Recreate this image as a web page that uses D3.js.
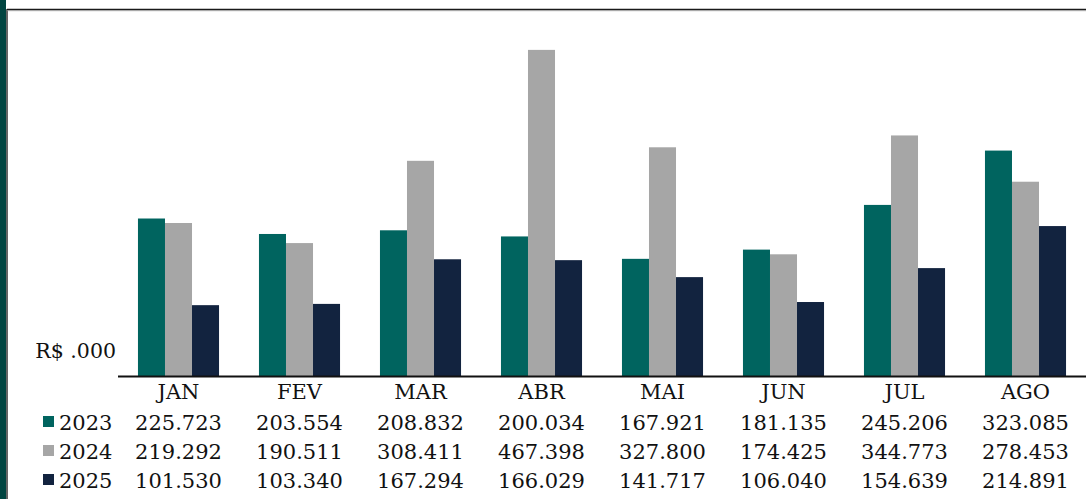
<!DOCTYPE html>
<html>
<head>
<meta charset="utf-8">
<script src="https://cdn.jsdelivr.net/npm/d3@7"></script>
<style>
  body { margin: 0; background: #fff; }
  svg { display: block; font-family: "DejaVu Serif", serif; }
</style>
</head>
<body>
<svg id="chart" width="1086" height="499"></svg>
<script>
const months = ['JAN', 'FEV', 'MAR', 'ABR', 'MAI', 'JUN', 'JUL', 'AGO'];
const years = ['2023', '2024', '2025'];
const v2023 = [225.723, 203.554, 208.832, 200.034, 167.921, 181.135, 245.206, 323.085];
const v2024 = [219.292, 190.511, 308.411, 467.398, 327.800, 174.425, 344.773, 278.453];
const v2025 = [101.530, 103.340, 167.294, 166.029, 141.717, 106.040, 154.639, 214.891];
const colors = ['#00645f', '#a6a6a6', '#12233f'];

const series = [v2023, v2024, v2025];

const svg = d3.select('#chart');

// frame: dark band on the left, line on top
svg.append('rect').attr('x', 0).attr('y', 0).attr('width', 6).attr('height', 499).attr('fill', '#014541');
svg.append('line').attr('x1', 7).attr('x2', 7).attr('y1', 9).attr('y2', 499).attr('stroke', '#333').attr('stroke-width', 1.5);
svg.append('line').attr('x1', 7).attr('x2', 1086).attr('y1', 9.5).attr('y2', 9.5).attr('stroke', '#1a1a1a').attr('stroke-width', 1.5);
svg.append('line').attr('x1', 7).attr('x2', 1086).attr('y1', 10.7).attr('y2', 10.7).attr('stroke', '#999').attr('stroke-width', 0.8);

const baseY = 376;

const x = d3.scaleBand()
  .domain(months)
  .range([118, 1086])
  .paddingInner(0.33)
  .paddingOuter(0.165);

const xi = d3.scaleBand()
  .domain(years)
  .range([0, x.bandwidth()]);

const y = d3.scaleLinear()
  .domain([0, 526])
  .range([baseY, 9]);

// bars
const groups = svg.append('g')
  .selectAll('g')
  .data(months)
  .join('g')
    .attr('transform', d => `translate(${x(d)},0)`);

groups.selectAll('rect')
  .data((m, i) => years.map((yr, k) => ({yr, k, v: series[k][i]})))
  .join('rect')
    .attr('x', d => xi(d.yr))
    .attr('width', xi.bandwidth())
    .attr('y', d => y(d.v))
    .attr('height', d => y(0) - y(d.v))
    .attr('fill', d => colors[d.k]);

// axis line
svg.append('line')
  .attr('x1', 118).attr('x2', 1086)
  .attr('y1', baseY + 0.5).attr('y2', baseY + 0.5)
  .attr('stroke', '#111').attr('stroke-width', 2);

// unit label
svg.append('text')
  .attr('x', 116).attr('y', 358)
  .attr('text-anchor', 'end')
  .attr('font-size', 20.5)
  .attr('fill', '#111')
  .text('R$ .000');

// month labels
const cx = m => x(m) + x.bandwidth() / 2;

svg.append('g')
  .selectAll('text')
  .data(months)
  .join('text')
    .attr('x', d => cx(d))
    .attr('y', 399)
    .attr('text-anchor', 'middle')
    .attr('font-size', 21)
    .attr('fill', '#111')
    .text(d => d);

// data table
const rowY = [430, 459, 488];
const fmt = v => v.toFixed(3);

years.forEach((yr, k) => {
  svg.append('rect')
    .attr('x', 43).attr('y', rowY[k] - 14)
    .attr('width', 11).attr('height', 11)
    .attr('fill', colors[k]);

  svg.append('text')
    .attr('x', 59).attr('y', rowY[k])
    .attr('font-size', 21)
    .attr('fill', '#111')
    .text(yr);

  svg.append('g')
    .selectAll('text')
    .data(months)
    .join('text')
      .attr('x', d => cx(d))
      .attr('y', rowY[k])
      .attr('text-anchor', 'middle')
      .attr('font-size', 21)
      .attr('fill', '#111')
      .text((d, i) => fmt(series[k][i]));
});
</script>
</body>
</html>
